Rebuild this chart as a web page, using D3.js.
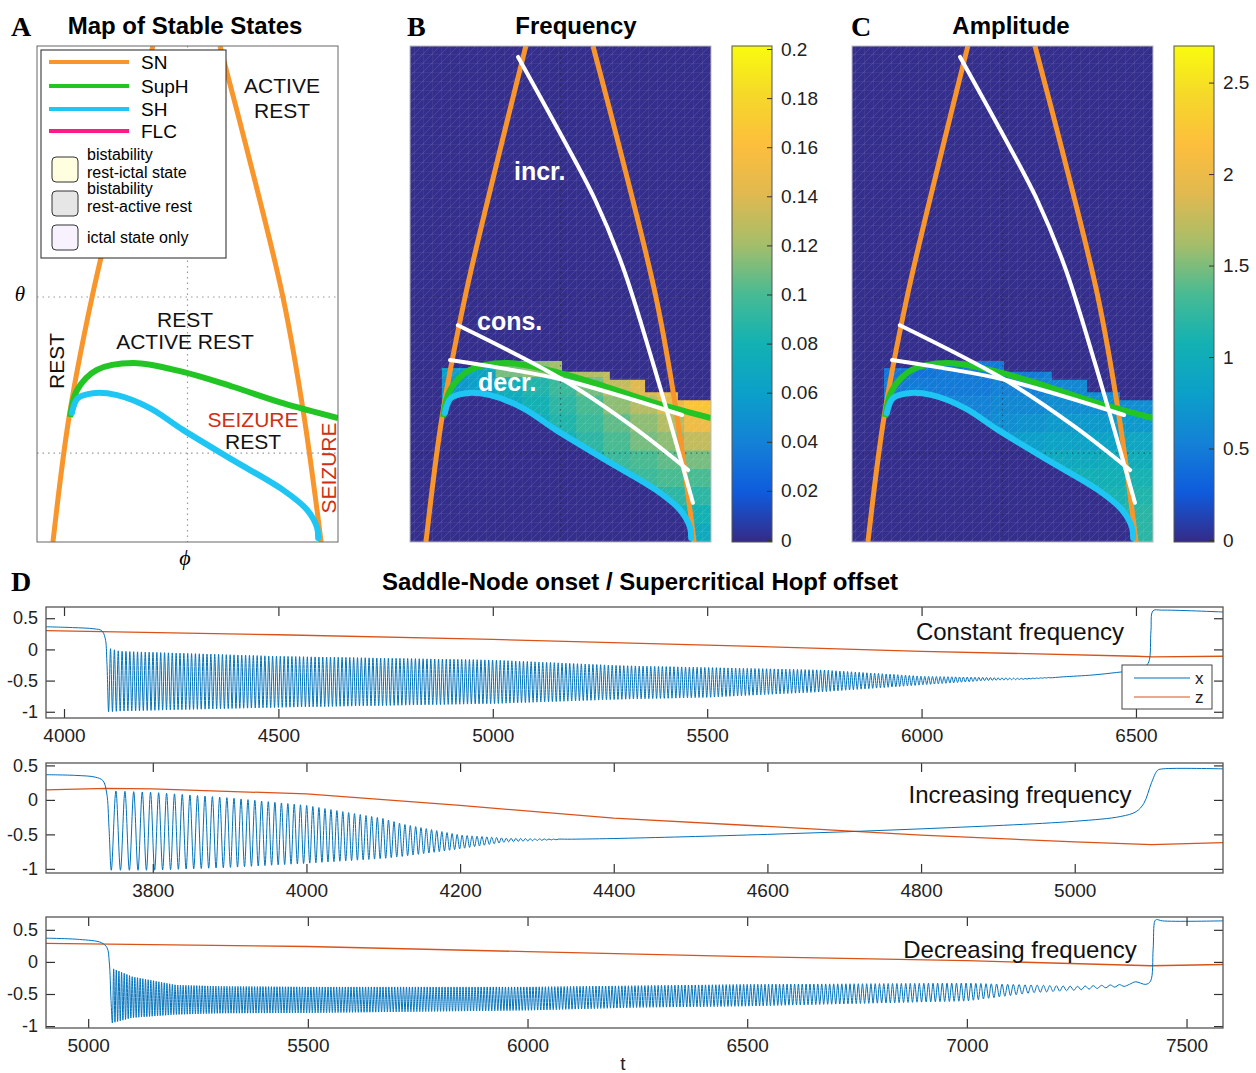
<!DOCTYPE html>
<html>
<head>
<meta charset="utf-8">
<script src="https://cdn.jsdelivr.net/npm/d3@7"></script>
<style>
  body { margin: 0; background: #fff; }
  svg { display: block; }
  text { font-family: "Liberation Sans", Arial, Helvetica, sans-serif; }
</style>
</head>
<body>
<svg id="fig" width="1256" height="1073"></svg>
<script>
// ---------- data (phi, theta normalised to the map box) ----------
const snLeft  = [[0.385,1.0],[0.299,0.790],[0.183,0.494],[0.106,0.250],[0.053,0.0]];
const snRight = [[0.608,1.0],[0.698,0.790],[0.817,0.494],[0.884,0.266],[0.944,0.0]];
const supH = [[0.110,0.252],[0.133,0.306],[0.199,0.347],[0.319,0.361],[0.485,0.343],[0.651,0.313],[0.817,0.280],[1.0,0.250]];
const sh = [[0.116,0.260],[0.136,0.290],[0.186,0.300],[0.266,0.296],[0.375,0.270],[0.485,0.226],[0.651,0.165],[0.817,0.105],[0.897,0.065],[0.930,0.030],[0.934,0.008]];

const pathIncr = [[0.359,0.978],[0.498,0.825],[0.615,0.690],[0.708,0.553],[0.807,0.361],[0.940,0.079]];
const pathCons = [[0.159,0.437],[0.508,0.327],[0.741,0.232],[0.924,0.145]];
const pathDecr = [[0.133,0.367],[0.299,0.351],[0.508,0.327],[0.904,0.256]];

// edge of the region where a seizure exists (stair top, SH bottom)
const heatEdge = [[0.106,0.260],[0.106,0.351],[0.266,0.351],[0.266,0.365],[0.505,0.365],[0.505,0.343],
  [0.664,0.343],[0.664,0.327],[0.781,0.327],[0.781,0.302],[0.890,0.302],[0.890,0.286],[1.0,0.286],[1.0,0.0],[0.934,0.0]];

// grid of measured values: 10 columns (phi 0.106..1) x 10 rows (theta 0.369..0)
const freqGrid = [
  [.060,.065,.110,.115,.120,.125,.130,.140,.150,.160],
  [.055,.060,.075,.085,.095,.110,.130,.140,.150,.165],
  [.050,.055,.070,.080,.090,.100,.115,.125,.145,.165],
  [.050,.050,.065,.075,.085,.095,.105,.115,.125,.150],
  [.050,.050,.060,.070,.080,.090,.100,.110,.115,.130],
  [.050,.050,.060,.065,.075,.085,.095,.100,.105,.110],
  [.050,.050,.060,.065,.070,.085,.090,.095,.100,.100],
  [.050,.050,.060,.065,.070,.080,.085,.085,.090,.090],
  [.050,.050,.060,.065,.070,.075,.080,.080,.080,.080],
  [.050,.050,.060,.065,.070,.070,.070,.070,.070,.070]
];
const ampGrid = [
  [.45,.45,.50,.50,.50,.50,.55,.60,.60,.60],
  [.50,.50,.50,.50,.55,.55,.60,.60,.60,.60],
  [.55,.55,.55,.55,.60,.60,.65,.65,.65,.65],
  [.60,.60,.60,.60,.65,.70,.75,.75,.75,.75],
  [.65,.65,.65,.70,.75,.80,.85,.85,.85,.90],
  [.70,.70,.70,.75,.80,.90,.95,.95,1.00,1.00],
  [.75,.75,.80,.85,.90,1.00,1.05,1.05,1.05,1.10],
  [.80,.80,.85,.90,1.00,1.05,1.10,1.10,1.10,1.15],
  [.85,.85,.90,.95,1.05,1.10,1.15,1.15,1.15,1.20],
  [.90,.90,.95,1.00,1.10,1.15,1.20,1.20,1.20,1.20]
];
const freqTicks = [0,0.02,0.04,0.06,0.08,0.1,0.12,0.14,0.16,0.18,0.2];
const ampTicks = [0,0.5,1,1.5,2,2.5];
const parula = ["#352a87","#0f5bdd","#1481d6","#0ba0c9","#13b1b3","#48bb93","#a5be6a","#e0b950","#fdbe3d","#f5d82a","#f9fb0e"];

// ---------- time series (panel D) ----------
// constant frequency
const pre1  = [[3958,0.363],[4020,0.35],[4070,0.33],[4088,0.30],[4096,0.18],[4100,-0.2]];
const env1  = [[4104,0.02,-1.0],[4130,-0.03,-0.99],[4500,-0.11,-0.93],[5000,-0.17,-0.87],[5300,-0.26,-0.80],[5500,-0.29,-0.77],[5770,-0.33,-0.68],[6000,-0.43,-0.57],[6150,-0.45,-0.50],[6240,-0.465,-0.48],[6300,-0.45,-0.455]];
const per1  = [[4104,9],[6300,9]];
const post1 = [[6330,-0.44],[6400,-0.41],[6455,-0.37],[6500,-0.33],[6520,-0.28],[6530,-0.2],[6535,0.3],[6540,0.62],[6560,0.63],[6703,0.60]];
const z1    = [[3958,0.30],[4500,0.235],[5000,0.16],[5500,0.07],[6000,-0.03],[6500,-0.11],[6540,-0.12],[6703,-0.11]];
// increasing frequency
const pre2  = [[3661,0.365],[3700,0.355],[3725,0.33],[3735,0.28],[3740,0.1],[3743,-0.4]];
const env2  = [[3746,0.13,-1.02],[3800,0.11,-1.02],[3900,0.03,-0.98],[4000,-0.08,-0.92],[4100,-0.27,-0.85],[4125,-0.35,-0.82],[4200,-0.51,-0.71],[4260,-0.555,-0.61],[4330,-0.57,-0.575]];
const per2  = [[3746,12],[3800,10.5],[4000,8],[4200,6.5],[4330,6]];
const post2 = [[4340,-0.57],[4400,-0.56],[4600,-0.50],[4800,-0.42],[5000,-0.31],[5060,-0.24],[5080,-0.17],[5090,-0.05],[5100,0.25],[5108,0.43],[5115,0.45],[5193,0.45]];
const z2    = [[3661,0.144],[3740,0.167],[3800,0.16],[4000,0.086],[4200,-0.08],[4400,-0.265],[4600,-0.385],[4800,-0.51],[5000,-0.61],[5100,-0.65],[5193,-0.62]];
// decreasing frequency
const pre3  = [[4904,0.37],[4980,0.35],[5030,0.30],[5043,0.22],[5048,0.0],[5052,-0.6]];
const env3  = [[5055,-0.10,-0.95],[5100,-0.23,-0.87],[5200,-0.36,-0.82],[5300,-0.38,-0.80],[5500,-0.39,-0.795],[6000,-0.39,-0.755],[6250,-0.37,-0.71],[6500,-0.35,-0.69],[7000,-0.33,-0.61],[7150,-0.36,-0.48],[7250,-0.38,-0.44],[7360,-0.35,-0.38]];
const per3  = [[5055,6],[6000,7],[6500,8],[7000,11],[7200,15],[7360,22]];
const post3 = [[7370,-0.35],[7384,-0.31],[7407,-0.35],[7418,-0.3],[7424,0.2],[7428,0.64],[7432,0.66],[7445,0.64],[7583,0.64]];
const z3    = [[4904,0.29],[5500,0.24],[6000,0.16],[6500,0.083],[7000,0.02],[7420,-0.06],[7583,-0.04]];

const yTicksD = [-1,-0.5,0,0.5];
const xTicks1 = [4000,4500,5000,5500,6000,6500];
const xTicks2 = [3800,4000,4200,4400,4600,4800,5000];
const xTicks3 = [5000,5500,6000,6500,7000,7500];

// ---------- drawing ----------
const svg = d3.select("#fig");
const defs = svg.append("defs");
const ORANGE = "#f8962b", GREEN = "#22c524", CYAN = "#1fc6f4", MAGENTA = "#ff1a8c";
const BLUE = "#0072bd", RED = "#d95319";
const SERIF = "'Liberation Serif', 'Times New Roman', serif";

const pat = defs.append("pattern").attr("id", "mesh").attr("patternUnits", "userSpaceOnUse")
  .attr("width", 9).attr("height", 9);
pat.append("path").attr("d", "M0,0H9M0,0V9M0,9L9,0").attr("fill", "none")
  .attr("stroke", "#fff").attr("stroke-width", 0.5).attr("stroke-opacity", 0.22);

const parulaScale = d3.scaleLinear().domain(d3.range(parula.length).map(i => i / (parula.length - 1)))
  .range(parula).interpolate(d3.interpolateRgb);

function panelLetter(t, x, y) {
  svg.append("text").attr("x", x).attr("y", y).text(t)
    .style("font-family", SERIF).style("font-weight", "bold").style("font-size", "28px");
}
function title(t, x, y) {
  svg.append("text").attr("x", x).attr("y", y).attr("text-anchor", "middle").text(t)
    .style("font-weight", "bold").style("font-size", "24px");
}

function drawMap(x0, id, opts) {
  const sx = d3.scaleLinear().domain([0, 1]).range([x0, x0 + 301]);
  const sy = d3.scaleLinear().domain([0, 1]).range([542, 46]);
  const line = d3.line().x(d => sx(d[0])).y(d => sy(d[1])).curve(d3.curveCatmullRom);
  defs.append("clipPath").attr("id", "clip" + id).append("rect")
    .attr("x", x0).attr("y", 46).attr("width", 301).attr("height", 496);
  const g = svg.append("g").attr("clip-path", `url(#clip${id})`);

  g.append("rect").attr("x", x0).attr("y", 46).attr("width", 301).attr("height", 496)
    .attr("fill", opts.bg);

  if (opts.grid) {
    // region with seizure values, cut to the measured edge
    const edge = heatEdge.concat(sh.slice().reverse());
    defs.append("clipPath").attr("id", "heat" + id).append("path")
      .attr("d", d3.line().x(d => sx(d[0])).y(d => sy(d[1]))(edge) + "Z");
    const nc = opts.grid[0].length, nr = opts.grid.length;
    const cw = (1 - 0.106) / nc, rh = 0.369 / nr;
    const cells = [];
    opts.grid.forEach((row, r) => row.forEach((v, c) => cells.push({ r, c, v })));
    g.append("g").attr("clip-path", `url(#heat${id})`)
      .selectAll("rect").data(cells).join("rect")
      .attr("x", d => sx(0.106 + d.c * cw))
      .attr("y", d => sy(0.369 - d.r * rh))
      .attr("width", sx(cw) - sx(0) + 0.6)
      .attr("height", sy(0) - sy(rh) + 0.6)
      .attr("fill", d => opts.color(d.v));
    g.append("rect").attr("x", x0).attr("y", 46).attr("width", 301).attr("height", 496)
      .attr("fill", "url(#mesh)");
  }

  // dotted grid
  const gridCol = opts.grid ? "#222" : "#999";
  g.append("line").attr("x1", sx(0.5)).attr("x2", sx(0.5)).attr("y1", sy(1)).attr("y2", sy(0))
    .attr("stroke", gridCol).attr("stroke-dasharray", "1.5,4").attr("stroke-width", 1.2).attr("opacity", opts.grid ? 0.5 : 1);
  [0.494, 0.179].forEach(t => g.append("line").attr("x1", sx(0)).attr("x2", sx(1)).attr("y1", sy(t)).attr("y2", sy(t))
    .attr("stroke", gridCol).attr("stroke-dasharray", "1.5,4").attr("stroke-width", 1.2).attr("opacity", opts.grid ? 0.5 : 1));

  [snLeft, snRight].forEach(c => g.append("path").attr("d", line(c)).attr("fill", "none")
    .attr("stroke", ORANGE).attr("stroke-width", 5));
  g.append("path").attr("d", line(supH)).attr("fill", "none").attr("stroke", GREEN).attr("stroke-width", 6);
  g.append("path").attr("d", line(sh)).attr("fill", "none").attr("stroke", CYAN).attr("stroke-width", 6)
    .attr("stroke-linecap", "round");

  if (opts.routes) {
    [pathIncr, pathCons, pathDecr].forEach(c => g.append("path").attr("d", line(c)).attr("fill", "none")
      .attr("stroke", "#fff").attr("stroke-width", 4).attr("stroke-linecap", "round"));
  }
  svg.append("rect").attr("x", x0).attr("y", 46).attr("width", 301).attr("height", 496)
    .attr("fill", "none").attr("stroke", opts.grid ? "#bbb" : "#666").attr("stroke-width", 1);
  return { sx, sy };
}

// ---- panel A ----
panelLetter("A", 11, 36);
title("Map of Stable States", 185, 34);
drawMap(37, "A", { bg: "#fff" });

// map region labels
const lab = (t, x, y, opt = {}) => svg.append("text").attr("x", x).attr("y", y).attr("text-anchor", "middle")
  .attr("fill", opt.fill || "#111").attr("transform", opt.rot ? `rotate(-90,${x},${y})` : null)
  .style("font-size", (opt.size || 21) + "px").text(t);
lab("ACTIVE", 282, 93); lab("REST", 282, 118);
lab("REST", 185, 327); lab("ACTIVE REST", 185, 349);
lab("SEIZURE", 253, 427, { fill: "#d12f14" }); lab("REST", 253, 449);
lab("REST", 64, 361, { rot: true });
lab("SEIZURE", 336, 468, { rot: true, fill: "#d12f14" });
svg.append("text").attr("x", 20).attr("y", 301).attr("text-anchor", "middle").text("θ")
  .style("font-family", SERIF).style("font-style", "italic").style("font-size", "21px");
svg.append("text").attr("x", 185).attr("y", 565).attr("text-anchor", "middle").text("ϕ")
  .style("font-family", SERIF).style("font-style", "italic").style("font-size", "22px");

// legend of panel A
const lg = svg.append("g");
lg.append("rect").attr("x", 41).attr("y", 50).attr("width", 185).attr("height", 208)
  .attr("fill", "#fff").attr("stroke", "#222").attr("stroke-width", 1);
const legendLines = [["SN", ORANGE], ["SupH", GREEN], ["SH", CYAN], ["FLC", MAGENTA]];
legendLines.forEach((d, i) => {
  const y = [62, 86, 109, 131][i];
  lg.append("line").attr("x1", 49).attr("x2", 129).attr("y1", y).attr("y2", y)
    .attr("stroke", d[1]).attr("stroke-width", 4);
  lg.append("text").attr("x", 141).attr("y", y + 7).text(d[0]).style("font-size", "19px");
});
const legendBoxes = [["#ffffe0", ["bistability", "rest-ictal state"], 157], ["#e6e6e6", ["bistability", "rest-active rest"], 191], ["#f8f2ff", ["ictal state only"], 225]];
legendBoxes.forEach(d => {
  lg.append("rect").attr("x", 52).attr("y", d[2]).attr("width", 26).attr("height", 25).attr("rx", 4)
    .attr("fill", d[0]).attr("stroke", "#333").attr("stroke-width", 1);
  d[1].forEach((t, j) => lg.append("text").attr("x", 87)
    .attr("y", d[1].length === 1 ? d[2] + 18 : d[2] + 3 + j * 18).text(t).style("font-size", "16px"));
});

// ---- panels B and C ----
const freqColor = v => parulaScale(v / 0.2);
const ampColor = v => parulaScale(v / 2.7);

panelLetter("B", 407, 36);
title("Frequency", 576, 34);
drawMap(410, "B", { bg: "#342e8c", grid: freqGrid, color: freqColor, routes: true });
const wl = (t, x, y) => svg.append("text").attr("x", x).attr("y", y).attr("fill", "#fff")
  .style("font-weight", "bold").style("font-size", "25px").text(t);
wl("incr.", 514, 180); wl("cons.", 477, 330); wl("decr.", 478, 391);

panelLetter("C", 851, 36);
title("Amplitude", 1011, 34);
drawMap(852, "C", { bg: "#342e8c", grid: ampGrid, color: ampColor, routes: true });

function colorbar(x0, id, max, top, ticks, fmt) {
  const grad = defs.append("linearGradient").attr("id", "cb" + id)
    .attr("x1", 0).attr("x2", 0).attr("y1", 1).attr("y2", 0);
  parula.forEach((c, i) => grad.append("stop").attr("offset", i / (parula.length - 1)).attr("stop-color", c));
  const y = d3.scaleLinear().domain([0, max]).range([540, top]);
  svg.append("rect").attr("x", x0).attr("y", 46).attr("width", 40).attr("height", 496)
    .attr("fill", `url(#cb${id})`).attr("stroke", "#555").attr("stroke-width", 1);
  const ax = svg.append("g").attr("transform", `translate(${x0 + 40},0)`)
    .call(d3.axisRight(y).tickValues(ticks).tickFormat(fmt).tickSizeInner(-5).tickSizeOuter(0).tickPadding(9));
  ax.select(".domain").remove();
  ax.selectAll("line").attr("stroke", "#333");
  ax.selectAll("text").style("font-size", "19px").attr("fill", "#222")
    .style("font-family", "'Liberation Sans', Arial, sans-serif");
}
colorbar(732, "B", 0.2, 49, freqTicks, d => String(+d.toFixed(2)));
colorbar(1174, "C", 2.7, 46, ampTicks, d => String(d));

// ---- panel D ----
panelLetter("D", 11, 591);
title("Saddle-Node onset / Supercritical Hopf offset", 640, 590);

function oscillate(env, period) {
  const ts = env.map(d => d[0]);
  const up = d3.scaleLinear().domain(ts).range(env.map(d => d[1]));
  const lo = d3.scaleLinear().domain(ts).range(env.map(d => d[2]));
  const per = d3.scaleLinear().domain(period.map(d => d[0])).range(period.map(d => d[1]));
  const pts = [];
  let t = ts[0], low = true;
  while (t <= ts[ts.length - 1]) {
    pts.push([t, low ? lo(t) : up(t)]);
    t += per(t) / 2; low = !low;
  }
  return pts;
}

function drawTrace(p) {
  const x = d3.scaleLinear().domain(p.xDomain).range([46, 1223]);
  const y = d3.scaleLinear().domain(p.yDomain).range([p.bottom, p.top]);
  const id = "d" + p.top;
  defs.append("clipPath").attr("id", id).append("rect")
    .attr("x", 46).attr("y", p.top).attr("width", 1177).attr("height", p.bottom - p.top);
  const g = svg.append("g");
  const line = d3.line().x(d => x(d[0])).y(d => y(d[1]));
  const xs = p.pre.concat(oscillate(p.env, p.per), p.post);
  const plot = g.append("g").attr("clip-path", `url(#${id})`);
  plot.append("path").attr("d", line.curve(d3.curveLinear)(p.z)).attr("fill", "none")
    .attr("stroke", RED).attr("stroke-width", 1.3);
  plot.append("path").attr("d", line.curve(d3.curveCatmullRom)(xs)).attr("fill", "none")
    .attr("stroke", BLUE).attr("stroke-width", 1);

  const style = (a, size) => {
    a.select(".domain").remove();
    a.selectAll("line").attr("stroke", "#333").attr("stroke-width", 1.2);
    a.selectAll("text").style("font-size", size + "px").attr("fill", "#222")
      .style("font-family", "'Liberation Sans', Arial, sans-serif");
  };
  g.append("g").attr("transform", `translate(0,${p.bottom})`)
    .call(d3.axisBottom(x).tickValues(p.xTicks).tickFormat(d => String(d)).tickSizeInner(-9).tickSizeOuter(0).tickPadding(11))
    .call(style, 19);
  g.append("g").attr("transform", `translate(0,${p.top})`)
    .call(d3.axisTop(x).tickValues(p.xTicks).tickSizeInner(-9).tickSizeOuter(0).tickFormat("")).call(style, 19);
  g.append("g").attr("transform", "translate(46,0)")
    .call(d3.axisLeft(y).tickValues(yTicksD).tickSizeInner(-9).tickSizeOuter(0).tickPadding(8).tickFormat(d => String(d)))
    .call(style, 18);
  g.append("g").attr("transform", "translate(1223,0)")
    .call(d3.axisRight(y).tickValues(yTicksD).tickSizeInner(-9).tickSizeOuter(0).tickFormat("")).call(style, 18);
  g.append("rect").attr("x", 46).attr("y", p.top).attr("width", 1177).attr("height", p.bottom - p.top)
    .attr("fill", "none").attr("stroke", "#555").attr("stroke-width", 1.3);
  g.append("text").attr("x", p.labelX).attr("y", p.labelY).attr("text-anchor", "middle")
    .style("font-size", "24px").attr("fill", "#111").text(p.label);
  return { g, x, y };
}

const D1 = drawTrace({ xDomain: [3958, 6703], yDomain: [-1.1, 0.68], top: 607, bottom: 718,
  pre: pre1, env: env1, per: per1, post: post1, z: z1, xTicks: xTicks1,
  label: "Constant frequency", labelX: 1020, labelY: 640 });
drawTrace({ xDomain: [3661, 5193], yDomain: [-1.06, 0.535], top: 763, bottom: 873,
  pre: pre2, env: env2, per: per2, post: post2, z: z2, xTicks: xTicks2,
  label: "Increasing frequency", labelX: 1020, labelY: 803 });
drawTrace({ xDomain: [4904, 7583], yDomain: [-1.03, 0.70], top: 917, bottom: 1028,
  pre: pre3, env: env3, per: per3, post: post3, z: z3, xTicks: xTicks3,
  label: "Decreasing frequency", labelX: 1020, labelY: 958 });

svg.append("text").attr("x", 623).attr("y", 1070).attr("text-anchor", "middle")
  .style("font-size", "19px").attr("fill", "#222").text("t");

// legend in the first trace
const dl = D1.g.append("g");
dl.append("rect").attr("x", 1122).attr("y", 665).attr("width", 90).attr("height", 44)
  .attr("fill", "#fff").attr("stroke", "#444").attr("stroke-width", 1);
[["x", BLUE, 678], ["z", RED, 697]].forEach(d => {
  dl.append("line").attr("x1", 1134).attr("x2", 1190).attr("y1", d[2]).attr("y2", d[2])
    .attr("stroke", d[1]).attr("stroke-width", 1.2);
  dl.append("text").attr("x", 1195).attr("y", d[2] + 6).style("font-size", "17px").attr("fill", "#222").text(d[0]);
});
</script>
</body>
</html>
